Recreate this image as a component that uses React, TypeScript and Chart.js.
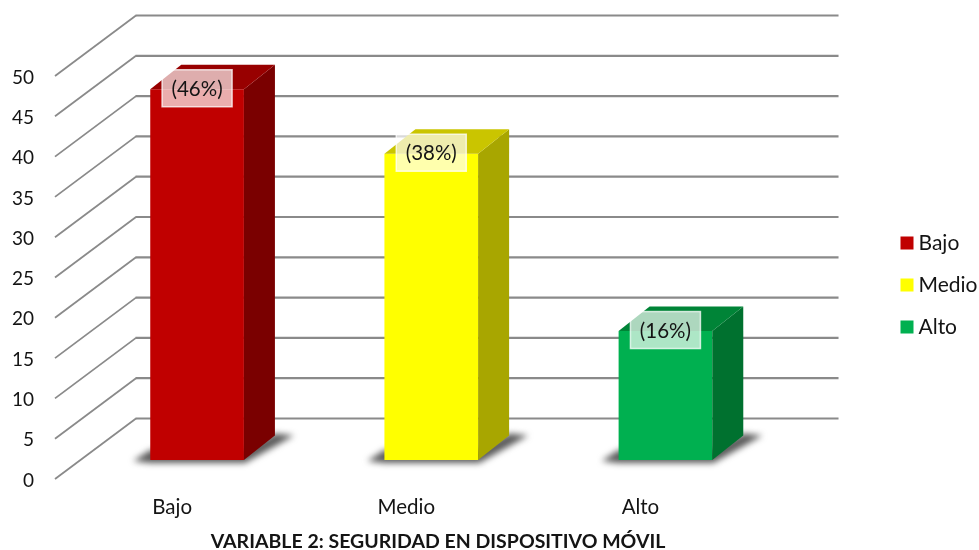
import { useEffect, useRef } from "react";
import { Chart, registerables } from "chart.js";

Chart.register(...registerables);

const categories = ["Bajo", "Medio", "Alto"];
const percentages = [46, 38, 16];
const axisTicks = { min: 0, max: 50, step: 5 };
const frontColors = ["#C00000", "#FFFF00", "#00B050"];
const topColors = ["#980000", "#CAC500", "#008437"];
const sideColors = ["#7A0000", "#A8A600", "#00712F"];
const chartTitle = "VARIABLE 2: SEGURIDAD EN DISPOSITIVO MÓVIL";

const FONT = "Lato";
const INK = "#141414";
const GRID = "#8A8A8A";

// Oblique projection: how far the floor runs back, and where the bars stand on it.
const WALL_DX = 81;
const WALL_DY = -60.5;
const BAR_SHIFT_X = 25;
const BAR_SHIFT_Y = -19;
const BAR_DEPTH_X = 31;
const BAR_DEPTH_Y = -24.5;

const polygon = (ctx: CanvasRenderingContext2D, pts: number[][], fill: string) => {
  ctx.beginPath();
  pts.forEach(([x, y], i) => (i ? ctx.lineTo(x, y) : ctx.moveTo(x, y)));
  ctx.closePath();
  ctx.fillStyle = fill;
  ctx.fill();
};

const perspectivePlugin = {
  id: "perspective",
  afterLayout(chart: any) {
    // Legend and title sit off-centre relative to the plot.
    const legend = chart.legend;
    const shift = 885 - legend.left;
    legend.left += shift;
    legend.right += shift;
    const legendShiftY = 285 - (legend.top + legend.bottom) / 2;
    legend.top += legendShiftY;
    legend.bottom += legendShiftY;
    const title = chart.titleBlock;
    const titleShift = 438 - (title.left + title.right) / 2;
    title.left += titleShift;
    title.right += titleShift;
    title.top += 3;
    title.bottom += 3;
  },
  beforeDatasetsDraw(chart: any) {
    const { ctx, scales, chartArea } = chart;
    const yScale = scales.y;
    const left = chartArea.left;
    const right = chartArea.right;

    // Side wall diagonals and back wall rules, one per tick.
    ctx.save();
    ctx.strokeStyle = GRID;
    yScale.ticks.forEach((tick: any) => {
      const y = yScale.getPixelForValue(tick.value);
      ctx.lineWidth = 1.8;
      ctx.beginPath();
      ctx.moveTo(left, y);
      ctx.lineTo(left + WALL_DX, y + WALL_DY);
      ctx.stroke();
      ctx.lineWidth = 2.2;
      ctx.beginPath();
      ctx.moveTo(left + WALL_DX - 0.5, y + WALL_DY);
      ctx.lineTo(right + WALL_DX, y + WALL_DY);
      ctx.stroke();
    });

    // Soft floor shadow under each bar.
    ctx.filter = "blur(3px)";
    chart.getDatasetMeta(0).data.forEach((bar: any) => {
      const l = bar.x - bar.width / 2 + BAR_SHIFT_X;
      const r = bar.x + bar.width / 2 + BAR_SHIFT_X;
      const b = bar.base + BAR_SHIFT_Y;
      polygon(
        ctx,
        [
          [l - 17, b + 1],
          [l, b - 10],
          [r, b - 10],
          [r + BAR_DEPTH_X, b + BAR_DEPTH_Y - 2],
          [r + BAR_DEPTH_X + 19, b + BAR_DEPTH_Y],
          [r + 1, b + 3],
          [l, b + 3],
        ],
        "#5A5A5A"
      );
    });
    ctx.filter = "none";
    ctx.restore();

    // The front faces come from the library, moved onto the bars' floor plane.
    ctx.save();
    ctx.translate(BAR_SHIFT_X, BAR_SHIFT_Y);
  },
  afterDatasetsDraw(chart: any) {
    const { ctx } = chart;
    ctx.restore();

    const bars = chart.getDatasetMeta(0).data;
    bars.forEach((bar: any, i: number) => {
      const l = bar.x - bar.width / 2 + BAR_SHIFT_X;
      const r = bar.x + bar.width / 2 + BAR_SHIFT_X;
      const t = bar.y + BAR_SHIFT_Y;
      const b = bar.base + BAR_SHIFT_Y;
      polygon(
        ctx,
        [
          [r, t],
          [r + BAR_DEPTH_X, t + BAR_DEPTH_Y],
          [r + BAR_DEPTH_X, b + BAR_DEPTH_Y],
          [r, b],
        ],
        sideColors[i]
      );
      polygon(
        ctx,
        [
          [l, t],
          [l + BAR_DEPTH_X, t + BAR_DEPTH_Y],
          [r + BAR_DEPTH_X, t + BAR_DEPTH_Y],
          [r, t],
        ],
        topColors[i]
      );
    });

    // Percentage tags straddling the top edge of each front face.
    bars.forEach((bar: any, i: number) => {
      const cx = bar.x + BAR_SHIFT_X;
      const cy = bar.y + BAR_SHIFT_Y - 1;
      const w = 70;
      const h = 37;
      ctx.save();
      ctx.fillStyle = "rgba(255,255,255,0.68)";
      ctx.fillRect(cx - w / 2, cy - h / 2, w, h);
      ctx.strokeStyle = "rgba(255,255,255,0.75)";
      ctx.lineWidth = 1.5;
      ctx.strokeRect(cx - w / 2, cy - h / 2, w, h);
      ctx.fillStyle = INK;
      ctx.font = `20.5px ${FONT}`;
      ctx.textAlign = "center";
      ctx.textBaseline = "middle";
      ctx.fillText(`(${percentages[i]}%)`, cx, cy + 1);
      ctx.restore();
    });
  },
};

export default function App() {
  const canvasRef = useRef<HTMLCanvasElement | null>(null);

  useEffect(() => {
    const chart = new Chart(canvasRef.current as HTMLCanvasElement, {
      type: "bar",
      data: {
        labels: categories,
        datasets: [
          {
            label: "Series",
            data: percentages,
            backgroundColor: frontColors,
            borderWidth: 0,
            barPercentage: 0.4,
            categoryPercentage: 1,
            clip: false,
          },
        ],
      },
      options: {
        responsive: false,
        animation: false,
        layout: { padding: { top: 76, left: 0, right: 119, bottom: 0 } },
        scales: {
          x: {
            grid: { display: false },
            border: { display: false },
            ticks: {
              color: INK,
              padding: 8,
              maxRotation: 0,
              font: { family: FONT, size: 20.5 },
            },
            afterFit(scale: any) {
              scale.height = 47.6;
            },
          },
          y: {
            min: axisTicks.min,
            max: axisTicks.max,
            grid: { display: false },
            border: { display: false },
            ticks: {
              stepSize: axisTicks.step,
              color: INK,
              padding: 13,
              labelOffset: 1.5,
              font: { family: FONT, size: 19 },
            },
            afterFit(scale: any) {
              scale.width = 55;
            },
          },
        },
        plugins: {
          tooltip: { enabled: false },
          title: {
            display: true,
            text: chartTitle,
            position: "bottom",
            color: INK,
            padding: 0,
            font: { family: FONT, size: 19.5, weight: "bold" },
          },
          legend: {
            position: "right",
            labels: {
              boxWidth: 2,
              boxHeight: 2,
              padding: 21,
              color: INK,
              font: { family: FONT, size: 21 },
              generateLabels: () =>
                categories.map((text, i) => ({
                  text,
                  fillStyle: frontColors[i],
                  strokeStyle: frontColors[i],
                  lineWidth: 11,
                  fontColor: INK,
                  index: i,
                })),
            },
          },
        },
      },
      plugins: [perspectivePlugin],
    } as any);
    return () => chart.destroy();
  }, []);

  return (
    <div style={{ position: "absolute", left: 0, top: 0, width: 979, height: 550, background: "#fff" }}>
      <canvas ref={canvasRef} width={979} height={550} style={{ display: "block" }} />
    </div>
  );
}
